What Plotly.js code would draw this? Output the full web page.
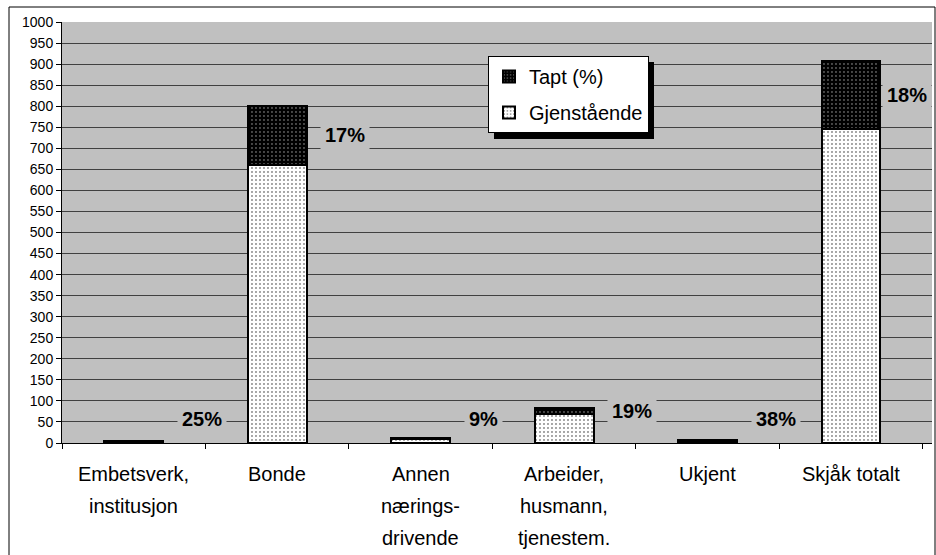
<!DOCTYPE html>
<html>
<head>
<meta charset="utf-8">
<script src="https://cdn.plot.ly/plotly-3.0.1.min.js"></script>
<style>
  html, body { margin: 0; padding: 0; background: #fff; }
  #chart { width: 936px; height: 555px; }
</style>
</head>
<body>
<div id="chart"></div>
<script>
const categories = [
  'Embetsverk,<br>institusjon',
  'Bonde',
  'Annen<br>nærings-<br>drivende',
  'Arbeider,<br>husmann,<br>tjenestem.',
  'Ukjent',
  'Skjåk totalt'
];
const gjenstaende = [3, 661, 10, 68, 5, 747];
const tapt = [1, 139, 1, 16, 3, 160];

const FONT = 'Arial, "Liberation Sans", sans-serif';

// plot area in pixels: left 62, right 932, top 22, bottom 443
const L = 62, R = 4, T = 22, B = 112;
const W = 936 - L - R, H = 555 - T - B;
const px = x => (x - L) / W;
const py = y => (555 - B - y) / H;

const traceGjen = {
  x: categories,
  y: gjenstaende,
  name: 'Gjenstående',
  type: 'bar',
  legendgroup: 'g',
  legendrank: 2,
  marker: {
    color: '#ffffff',
    line: { color: '#000', width: 2 },
    pattern: { shape: '.', bgcolor: '#ffffff', fgcolor: '#000000', size: 4, solidity: 0.08 }
  },
  hoverinfo: 'skip'
};

const traceTapt = {
  x: categories,
  y: tapt,
  name: 'Tapt (%)',
  type: 'bar',
  legendgroup: 't',
  legendrank: 1,
  marker: {
    color: '#000000',
    line: { color: '#000', width: 2 },
    pattern: { shape: '.', bgcolor: '#000000', fgcolor: '#b0b0b0', size: 4, solidity: 0.1 }
  },
  hoverinfo: 'skip'
};

// percentage labels, placed right of each bar at the middle of the lost part
const pctAnnotations = categories.map((c, i) => {
  const total = gjenstaende[i] + tapt[i];
  const pct = Math.round(tapt[i] / total * 100);
  const mid = Math.max(gjenstaende[i] + tapt[i] / 2, 58);
  return {
    x: c, y: mid, xref: 'x', yref: 'y',
    text: '<b>' + pct + '%</b>',
    showarrow: false,
    xanchor: 'left',
    xshift: i === categories.length - 1 ? 31 : 43,
    font: { family: FONT, size: 20, color: '#000' },
    bgcolor: '#c0c0c0',
    borderpad: 4
  };
});

// category labels, one annotation per line to get the wide line spacing
const catAnnotations = [];
categories.forEach(c => {
  c.split('<br>').forEach((line, j) => {
    catAnnotations.push({
      x: c, y: 0, xref: 'x', yref: 'paper',
      text: line,
      showarrow: false,
      xanchor: 'center', yanchor: 'middle',
      yshift: -(31 + 32 * j),
      font: { family: FONT, size: 20, color: '#000' }
    });
  });
});

const layout = {
  width: 936,
  height: 555,
  margin: { l: L, r: R, t: T, b: B, autoexpand: false },
  paper_bgcolor: '#ffffff',
  plot_bgcolor: '#c0c0c0',
  barmode: 'stack',
  bargap: 0.59,
  showlegend: true,
  legend: {
    x: px(488), y: py(56), xanchor: 'left', yanchor: 'top',
    bgcolor: '#ffffff', bordercolor: '#000', borderwidth: 1,
    font: { family: FONT, size: 20, color: '#000' },
    traceorder: 'grouped',
    tracegroupgap: 7
  },
  xaxis: {
    type: 'category',
    showticklabels: false,
    showline: true, linecolor: '#000', linewidth: 1,
    ticks: 'outside', ticklen: 5, tickcolor: '#000',
    tickson: 'boundaries',
    showgrid: false,
    fixedrange: true
  },
  yaxis: {
    range: [0, 1000],
    dtick: 50,
    showline: true, linecolor: '#000', linewidth: 1,
    ticks: 'outside', ticklen: 5, tickcolor: '#000',
    gridcolor: '#404040', gridwidth: 1,
    zeroline: false,
    tickfont: { family: FONT, size: 14, color: '#000' },
    fixedrange: true
  },
  annotations: pctAnnotations.concat(catAnnotations),
  shapes: [
    // outer chart border
    { type: 'rect', xref: 'paper', yref: 'paper', layer: 'above',
      x0: px(9), x1: px(935), y0: py(562), y1: py(7),
      line: { color: '#000', width: 1 } },
    // legend drop shadow
    { type: 'rect', xref: 'paper', yref: 'paper', layer: 'above',
      x0: px(494), x1: px(654), y0: py(139), y1: py(62),
      fillcolor: '#000', line: { width: 0 } }
  ]
};

Plotly.newPlot('chart', [traceGjen, traceTapt], layout, { displayModeBar: false, staticPlot: true });
</script>
</body>
</html>
